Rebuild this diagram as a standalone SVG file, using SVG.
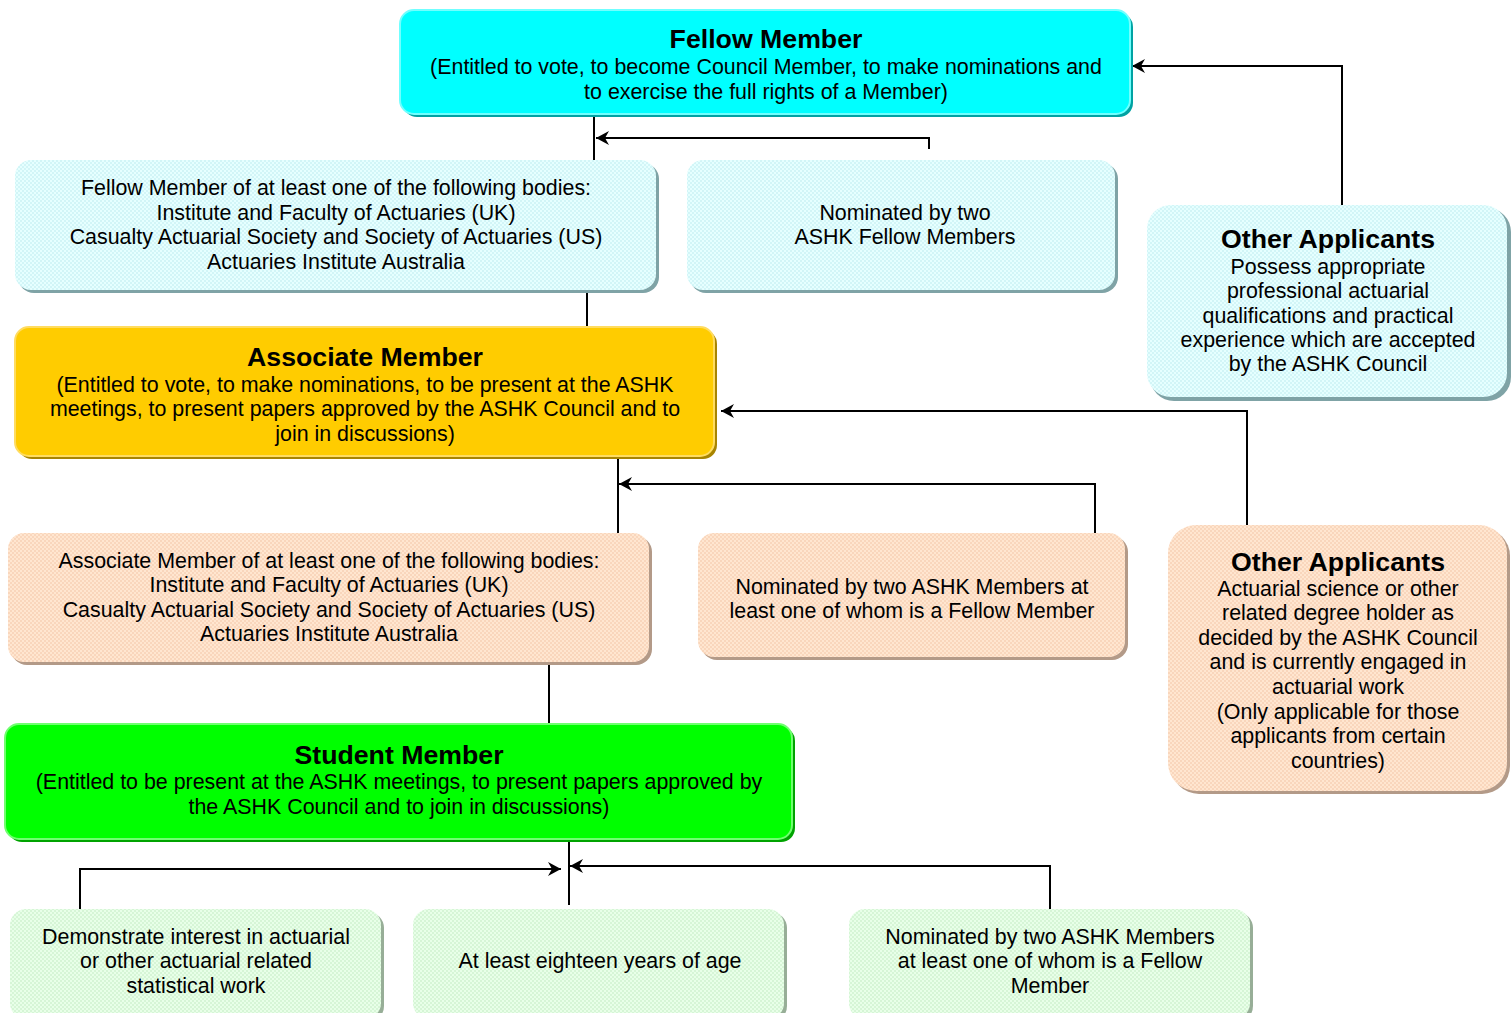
<svg xmlns="http://www.w3.org/2000/svg" width="1511" height="1013" viewBox="0 0 1511 1013">
<defs>
<pattern id="pc" width="4" height="4" patternUnits="userSpaceOnUse"><rect width="4" height="4" fill="#E6FFFF"/><rect width="2" height="2" fill="#D2F5F7"/><rect x="2" y="2" width="2" height="2" fill="#D2F5F7"/></pattern>
<pattern id="pp" width="4" height="4" patternUnits="userSpaceOnUse"><rect width="4" height="4" fill="#FFE6D0"/><rect width="2" height="2" fill="#F9D6BC"/><rect x="2" y="2" width="2" height="2" fill="#F9D6BC"/></pattern>
<pattern id="pg" width="4" height="4" patternUnits="userSpaceOnUse"><rect width="4" height="4" fill="#E8FFE8"/><rect width="2" height="2" fill="#D6F5D6"/><rect x="2" y="2" width="2" height="2" fill="#D6F5D6"/></pattern>
<marker id="ah" markerUnits="userSpaceOnUse" markerWidth="18" markerHeight="16" viewBox="-1 -8 16 16" refX="13" refY="0" orient="auto"><path d="M0,-7 L13,0 L0,7 L4,0 z" fill="#000"/></marker>
</defs>
<style>
text{font-family:"Liberation Sans",Arial,sans-serif;font-size:21.4px;fill:#000;text-anchor:middle}
.t{font-weight:bold;font-size:26.7px}
.c{fill:none;stroke:#000;stroke-width:2}
.sh-c{fill:#7FA3A6}.sh-p{fill:#B39A88}.sh-g{fill:#97AE97}
</style>
<rect width="1511" height="1013" fill="#fff"/>

<g id="connectors">
<path class="c" d="M594,115 V160"/>
<path class="c" d="M929,149 V138 H596" marker-end="url(#ah)"/>
<path class="c" d="M1342,205 V66 H1132" marker-end="url(#ah)"/>
<path class="c" d="M587,291 V327"/>
<path class="c" d="M1247,525 V411 H721" marker-end="url(#ah)"/>
<path class="c" d="M618,457 V533"/>
<path class="c" d="M1095,533 V484 H619" marker-end="url(#ah)"/>
<path class="c" d="M549,663 V724"/>
<path class="c" d="M569,840 V905"/>
<path class="c" d="M80,909 V869 H561" marker-end="url(#ah)"/>
<path class="c" d="M1050,909 V866 H570" marker-end="url(#ah)"/>
</g>

<g id="fellow">
<rect x="403" y="13" width="730" height="104" rx="14" fill="#00A3A3"/>
<rect x="400" y="10" width="730" height="104" rx="14" fill="#00FFFF" stroke="#70FFFF" stroke-width="2"/>
<text class="t" x="766" y="48">Fellow Member</text>
<text x="766" y="74">(Entitled to vote, to become Council Member, to make nominations and</text>
<text x="766" y="99">to exercise the full rights of a Member)</text>
</g>

<g id="fellow-bodies">
<rect x="18" y="163" width="641" height="130" rx="16" class="sh-c"/>
<rect x="15" y="160" width="641" height="130" rx="16" fill="url(#pc)"/>
<text x="336" y="195">Fellow Member of at least one of the following bodies:</text>
<text x="336" y="220">Institute and Faculty of Actuaries (UK)</text>
<text x="336" y="244">Casualty Actuarial Society and Society of Actuaries (US)</text>
<text x="336" y="269">Actuaries Institute Australia</text>
</g>

<g id="fellow-nominated">
<rect x="690" y="163" width="428" height="130" rx="16" class="sh-c"/>
<rect x="687" y="160" width="428" height="130" rx="16" fill="url(#pc)"/>
<text x="905" y="220">Nominated by two</text>
<text x="905" y="244">ASHK Fellow Members</text>
</g>

<g id="fellow-other">
<rect x="1150" y="208" width="361" height="193" rx="24" class="sh-c"/>
<rect x="1147" y="205" width="360" height="192" rx="24" fill="url(#pc)"/>
<text class="t" x="1328" y="248">Other Applicants</text>
<text x="1328" y="274">Possess appropriate</text>
<text x="1328" y="298">professional actuarial</text>
<text x="1328" y="323">qualifications and practical</text>
<text x="1328" y="347">experience which are accepted</text>
<text x="1328" y="371">by the ASHK Council</text>
</g>

<g id="associate">
<rect x="18" y="330" width="699" height="129" rx="14" fill="#A88400"/>
<rect x="15" y="327" width="699" height="129" rx="14" fill="#FFCC00" stroke="#FFDC60" stroke-width="2"/>
<text class="t" x="365" y="366">Associate Member</text>
<text x="365" y="392">(Entitled to vote, to make nominations, to be present at the ASHK</text>
<text x="365" y="416">meetings, to present papers approved by the ASHK Council and to</text>
<text x="365" y="441">join in discussions)</text>
</g>

<g id="associate-bodies">
<rect x="11" y="536" width="641" height="129" rx="16" class="sh-p"/>
<rect x="8" y="533" width="641" height="129" rx="16" fill="url(#pp)"/>
<text x="329" y="568">Associate Member of at least one of the following bodies:</text>
<text x="329" y="592">Institute and Faculty of Actuaries (UK)</text>
<text x="329" y="617">Casualty Actuarial Society and Society of Actuaries (US)</text>
<text x="329" y="641">Actuaries Institute Australia</text>
</g>

<g id="associate-nominated">
<rect x="701" y="536" width="427" height="124" rx="16" class="sh-p"/>
<rect x="698" y="533" width="427" height="124" rx="16" fill="url(#pp)"/>
<text x="912" y="594">Nominated by two ASHK Members at</text>
<text x="912" y="618">least one of whom is a Fellow Member</text>
</g>

<g id="associate-other">
<rect x="1171" y="528" width="339" height="266" rx="28" class="sh-p"/>
<rect x="1168" y="525" width="339" height="266" rx="28" fill="url(#pp)"/>
<text class="t" x="1338" y="571">Other Applicants</text>
<text x="1338" y="596">Actuarial science or other</text>
<text x="1338" y="620">related degree holder as</text>
<text x="1338" y="645">decided by the ASHK Council</text>
<text x="1338" y="669">and is currently engaged in</text>
<text x="1338" y="694">actuarial work</text>
<text x="1338" y="719">(Only applicable for those</text>
<text x="1338" y="743">applicants from certain</text>
<text x="1338" y="768">countries)</text>
</g>

<g id="student">
<rect x="8" y="727" width="787" height="115" rx="14" fill="#00A300"/>
<rect x="5" y="724" width="787" height="115" rx="14" fill="#00FF00" stroke="#70FF70" stroke-width="2"/>
<text class="t" x="399" y="764">Student Member</text>
<text x="399" y="789">(Entitled to be present at the ASHK meetings, to present papers approved by</text>
<text x="399" y="814">the ASHK Council and to join in discussions)</text>
</g>

<g id="student-interest">
<rect x="13" y="912" width="371" height="110" rx="16" class="sh-g"/>
<rect x="10" y="909" width="371" height="110" rx="16" fill="url(#pg)"/>
<text x="196" y="944">Demonstrate interest in actuarial</text>
<text x="196" y="968">or other actuarial related</text>
<text x="196" y="993">statistical work</text>
</g>

<g id="student-age">
<rect x="416" y="912" width="371" height="110" rx="16" class="sh-g"/>
<rect x="413" y="909" width="371" height="110" rx="16" fill="url(#pg)"/>
<text x="600" y="968">At least eighteen years of age</text>
</g>

<g id="student-nominated">
<rect x="852" y="912" width="401" height="110" rx="16" class="sh-g"/>
<rect x="849" y="909" width="401" height="110" rx="16" fill="url(#pg)"/>
<text x="1050" y="944">Nominated by two ASHK Members</text>
<text x="1050" y="968">at least one of whom is a Fellow</text>
<text x="1050" y="993">Member</text>
</g>
</svg>
